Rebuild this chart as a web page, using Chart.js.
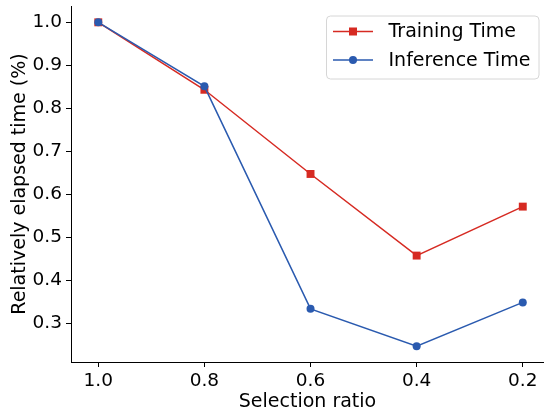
<!DOCTYPE html>
<html>
<head>
<meta charset="utf-8">
<script src="https://cdn.jsdelivr.net/npm/chart.js@4"></script>
<style>
  html, body { margin: 0; padding: 0; background: #fff; }
  #wrap { width: 544px; height: 416px; }
</style>
</head>
<body>
<div id="wrap"><canvas id="chart" width="544" height="416"></canvas></div>
<script>
// data
const ratios = [1.0, 0.8, 0.6, 0.4, 0.2];
const trainingTime = [1.0, 0.843, 0.647, 0.457, 0.571];
const inferenceTime = [1.0, 0.851, 0.333, 0.246, 0.348];
const xTicks = [1.0, 0.8, 0.6, 0.4, 0.2];
const yTicks = [0.3, 0.4, 0.5, 0.6, 0.7, 0.8, 0.9, 1.0];

const RED = '#d62a22';
const BLUE = '#2a5aaf';
const FONT = 'DejaVu Sans';

const toPoints = (ys) => ratios.map((x, i) => ({ x: x, y: ys[i] }));

// legend box like matplotlib's
const boxLegend = {
  id: 'boxLegend',
  afterDraw(chart) {
    const ctx = chart.ctx;
    const x0 = 326.5, y0 = 16, w = 212.5, h = 63;
    ctx.save();
    ctx.beginPath();
    ctx.roundRect(x0, y0, w, h, 4);
    ctx.fillStyle = 'rgba(255,255,255,0.8)';
    ctx.fill();
    ctx.strokeStyle = '#d6d6d6';
    ctx.lineWidth = 1;
    ctx.stroke();
    const rows = [chart.data.datasets[0], chart.data.datasets[1]];
    rows.forEach((ds, i) => {
      const cy = 31.5 + i * 28.5;
      ctx.strokeStyle = ds.borderColor;
      ctx.lineWidth = 1.5;
      ctx.beginPath();
      ctx.moveTo(333, cy);
      ctx.lineTo(373, cy);
      ctx.stroke();
      ctx.fillStyle = ds.borderColor;
      if (ds.pointStyle === 'rect') {
        ctx.fillRect(349, cy - 4, 8, 8);
      } else {
        ctx.beginPath();
        ctx.arc(353, cy, 4, 0, Math.PI * 2);
        ctx.fill();
      }
      ctx.fillStyle = '#000';
      ctx.font = '19px "' + FONT + '"';
      ctx.textBaseline = 'middle';
      ctx.fillText(ds.label, 388.5, cy + 1);
    });
    ctx.restore();
  }
};

new Chart(document.getElementById('chart'), {
  type: 'line',
  data: {
    datasets: [
      {
        label: 'Training Time',
        data: toPoints(trainingTime),
        borderColor: RED,
        backgroundColor: RED,
        borderWidth: 1.5,
        pointStyle: 'rect',
        pointRadius: 5.6,
        pointBorderWidth: 0,
        tension: 0,
        clip: false,
        order: 1
      },
      {
        label: 'Inference Time',
        data: toPoints(inferenceTime),
        borderColor: BLUE,
        backgroundColor: BLUE,
        borderWidth: 1.5,
        pointStyle: 'circle',
        pointRadius: 4,
        pointBorderWidth: 0,
        tension: 0,
        clip: false,
        order: 0
      }
    ]
  },
  plugins: [boxLegend],
  options: {
    responsive: false,
    animation: false,
    layout: { autoPadding: false, padding: { top: 6, right: 0, left: 0, bottom: 0 } },
    plugins: {
      legend: { display: false },
      tooltip: { enabled: false }
    },
    scales: {
      x: {
        type: 'linear',
        reverse: true,
        min: 0.16,
        max: 1.0514,
        afterBuildTicks: (s) => { s.ticks = xTicks.map(v => ({ value: v })); },
        afterFit: (s) => { s.height = 54; s.paddingLeft = 0; s.paddingRight = 0; },
        grid: { drawOnChartArea: false, tickLength: 5, color: '#000', tickWidth: 1 },
        border: { display: true, color: '#000', width: 1 },
        ticks: {
          color: '#000',
          font: { family: FONT, size: 18.5 },
          padding: 3,
          maxRotation: 0,
          callback: (v) => Number(v).toFixed(1)
        },
        title: {
          display: true,
          text: 'Selection ratio',
          color: '#000',
          font: { family: FONT, size: 19 },
          padding: { top: 0, bottom: 3 }
        }
      },
      y: {
        type: 'linear',
        min: 0.2093,
        max: 1.038,
        afterBuildTicks: (s) => { s.ticks = yTicks.map(v => ({ value: v })); },
        afterFit: (s) => { s.width = 71; s.paddingTop = 0; s.paddingBottom = 0; },
        grid: { drawOnChartArea: false, tickLength: 5, color: '#000', tickWidth: 1 },
        border: { display: true, color: '#000', width: 1 },
        ticks: {
          color: '#000',
          font: { family: FONT, size: 18.5 },
          padding: 4,
          callback: (v) => Number(v).toFixed(1)
        },
        title: {
          display: true,
          text: 'Relatively elapsed time (%)',
          color: '#000',
          font: { family: FONT, size: 19 },
          padding: { top: 9, bottom: 0 }
        }
      }
    }
  }
});
</script>
</body>
</html>
